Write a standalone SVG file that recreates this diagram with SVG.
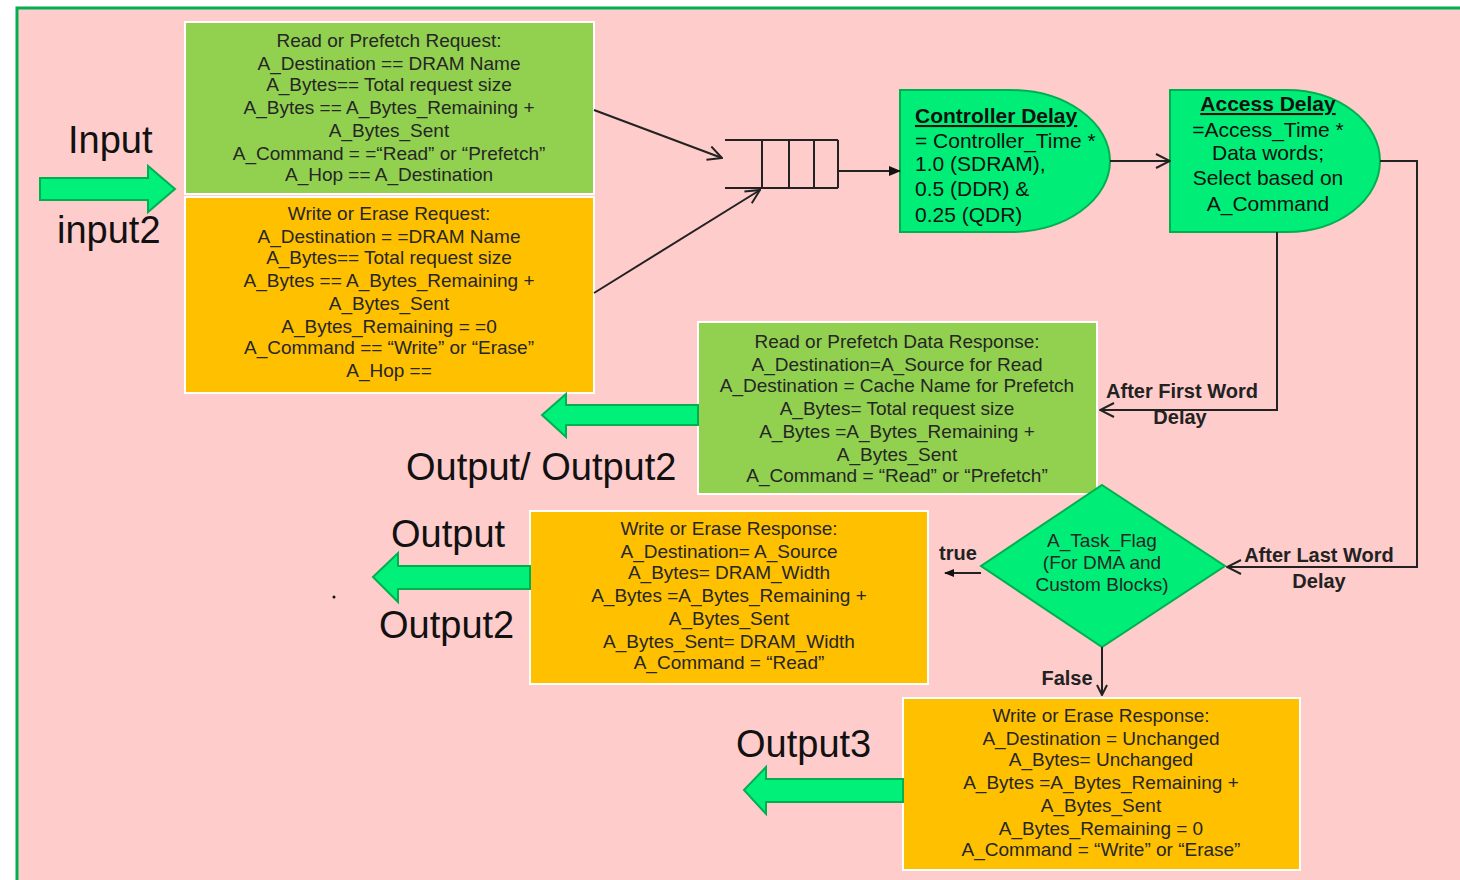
<svg xmlns="http://www.w3.org/2000/svg" width="1460" height="880" viewBox="0 0 1460 880">
<defs>
<marker id="open" viewBox="0 0 12 12" refX="11" refY="6" markerWidth="12" markerHeight="12" markerUnits="userSpaceOnUse" orient="auto">
<path d="M1,1 L11,6 L1,11" fill="none" stroke="#222" stroke-width="2"/>
</marker>
<marker id="openL" viewBox="0 0 16 16" refX="15" refY="8" markerWidth="16" markerHeight="16" markerUnits="userSpaceOnUse" orient="auto">
<path d="M1,1 L15,8 L1,15" fill="none" stroke="#222" stroke-width="2"/>
</marker>
<marker id="fill" viewBox="0 0 12 10" refX="11" refY="5" markerWidth="12" markerHeight="10" markerUnits="userSpaceOnUse" orient="auto">
<path d="M0,0 L12,5 L0,10 Z" fill="#111"/>
</marker>
<marker id="fillS" viewBox="0 0 10 8" refX="9" refY="4" markerWidth="10" markerHeight="8" markerUnits="userSpaceOnUse" orient="auto">
<path d="M0,0 L10,4 L0,8 Z" fill="#111"/>
</marker>
</defs>
<style>
.t{font-family:"Liberation Sans",Arial,sans-serif;font-size:19px;fill:#262626;text-anchor:middle}
.d{font-family:"Liberation Sans",Arial,sans-serif;font-size:21px;fill:#111}
.big{font-family:"Liberation Sans",Arial,sans-serif;font-size:38px;fill:#111}
.lbl{font-family:"Liberation Sans",Arial,sans-serif;font-size:20px;font-weight:bold;fill:#222;text-anchor:middle}
.gbox{fill:#92d050;stroke:#ffffff;stroke-width:2}
.ybox{fill:#ffc000;stroke:#ffffff;stroke-width:2}
.shape{fill:#00ee77;stroke:#00b050;stroke-width:2}
.barrow{fill:#00f07a;stroke:#00b050;stroke-width:2}
.ln{fill:none;stroke:#222;stroke-width:2}
</style>
<rect x="0" y="0" width="1460" height="880" fill="#ffffff"/>
<rect x="17" y="8" width="1448" height="880" fill="#ffcccc" stroke="#00b050" stroke-width="3"/>

<g id="input-arrow">
<path class="barrow" d="M40,178 L148,178 L148,166 L175,189 L148,212 L148,200 L40,200 Z"/>
<text class="big" x="68" y="153">Input</text>
<text class="big" x="57" y="243">input2</text>
</g>

<g id="read-request">
<rect class="gbox" x="185" y="22" width="409" height="172"/>
<text class="t" x="389" y="47">Read or Prefetch Request:</text>
<text class="t" x="389" y="70">A_Destination == DRAM Name</text>
<text class="t" x="389" y="91">A_Bytes== Total request size</text>
<text class="t" x="389" y="114">A_Bytes == A_Bytes_Remaining +</text>
<text class="t" x="389" y="137">A_Bytes_Sent</text>
<text class="t" x="389" y="160">A_Command = =“Read” or “Prefetch”</text>
<text class="t" x="389" y="181">A_Hop == A_Destination</text>
</g>

<g id="write-request">
<rect class="ybox" x="185" y="197" width="409" height="196"/>
<text class="t" x="389" y="220">Write or Erase Request:</text>
<text class="t" x="389" y="243">A_Destination = =DRAM Name</text>
<text class="t" x="389" y="264">A_Bytes== Total request size</text>
<text class="t" x="389" y="287">A_Bytes == A_Bytes_Remaining +</text>
<text class="t" x="389" y="310">A_Bytes_Sent</text>
<text class="t" x="389" y="333">A_Bytes_Remaining = =0</text>
<text class="t" x="389" y="354">A_Command == “Write” or “Erase”</text>
<text class="t" x="389" y="377">A_Hop ==</text>
</g>

<g id="queue">
<path class="ln" d="M725,140 H838 M725,188 H838 M762,140 V188 M789,140 V188 M814,140 V188 M838,140 V188"/>
</g>

<g id="controller-delay">
<path class="shape" d="M900,90 H1010 A100,71 0 0 1 1010,232 H900 Z"/>
<text class="d" x="915" y="123" font-weight="bold" text-decoration="underline">Controller Delay</text>
<text class="d" x="915" y="148">= Controller_Time *</text>
<text class="d" x="915" y="171">1.0 (SDRAM),</text>
<text class="d" x="915" y="196">0.5 (DDR) &amp;</text>
<text class="d" x="915" y="222">0.25 (QDR)</text>
</g>

<g id="access-delay">
<path class="shape" d="M1170,90 H1287 A93,71 0 0 1 1287,232 H1170 Z"/>
<text class="d" x="1268" y="111" text-anchor="middle" font-weight="bold" text-decoration="underline">Access Delay</text>
<text class="d" x="1268" y="137" text-anchor="middle">=Access_Time *</text>
<text class="d" x="1268" y="160" text-anchor="middle">Data words;</text>
<text class="d" x="1268" y="185" text-anchor="middle">Select based on</text>
<text class="d" x="1268" y="211" text-anchor="middle">A_Command</text>
</g>

<g id="read-response">
<rect class="gbox" x="698" y="322" width="399" height="172"/>
<text class="t" x="897" y="348">Read or Prefetch Data Response:</text>
<text class="t" x="897" y="371">A_Destination=A_Source for Read</text>
<text class="t" x="897" y="392">A_Destination = Cache Name for Prefetch</text>
<text class="t" x="897" y="415">A_Bytes= Total request size</text>
<text class="t" x="897" y="438">A_Bytes =A_Bytes_Remaining +</text>
<text class="t" x="897" y="461">A_Bytes_Sent</text>
<text class="t" x="897" y="482">A_Command = “Read” or “Prefetch”</text>
</g>

<g id="output-read">
<path class="barrow" d="M542,415 L566,394 L566,405 L698,405 L698,425 L566,425 L566,437 Z"/>
<text class="big" x="406" y="480">Output/ Output2</text>
</g>

<g id="write-response">
<rect class="ybox" x="530" y="511" width="398" height="173"/>
<text class="t" x="729" y="535">Write or Erase Response:</text>
<text class="t" x="729" y="558">A_Destination= A_Source</text>
<text class="t" x="729" y="579">A_Bytes= DRAM_Width</text>
<text class="t" x="729" y="602">A_Bytes =A_Bytes_Remaining +</text>
<text class="t" x="729" y="625">A_Bytes_Sent</text>
<text class="t" x="729" y="648">A_Bytes_Sent= DRAM_Width</text>
<text class="t" x="729" y="669">A_Command = “Read”</text>
</g>

<g id="output-write">
<path class="barrow" d="M373,577 L398,553 L398,566 L530,566 L530,589 L398,589 L398,602 Z"/>
<text class="big" x="391" y="547">Output</text>
<text class="big" x="379" y="638">Output2</text>
<circle cx="334" cy="597" r="1.5" fill="#111"/>
</g>

<g id="task-flag">
<path class="shape" d="M1102,485 L1225,566 L1102,647 L981,566 Z"/>
<text class="t" x="1102" y="547">A_Task_Flag</text>
<text class="t" x="1102" y="569">(For DMA and</text>
<text class="t" x="1102" y="591">Custom Blocks)</text>
</g>

<g id="write-response-2">
<rect class="ybox" x="903" y="698" width="397" height="172"/>
<text class="t" x="1101" y="722">Write or Erase Response:</text>
<text class="t" x="1101" y="745">A_Destination = Unchanged</text>
<text class="t" x="1101" y="766">A_Bytes= Unchanged</text>
<text class="t" x="1101" y="789">A_Bytes =A_Bytes_Remaining +</text>
<text class="t" x="1101" y="812">A_Bytes_Sent</text>
<text class="t" x="1101" y="835">A_Bytes_Remaining = 0</text>
<text class="t" x="1101" y="856">A_Command = “Write” or “Erase”</text>
</g>

<g id="output3">
<path class="barrow" d="M744,790 L766,767 L766,779 L903,779 L903,802 L766,802 L766,814 Z"/>
<text class="big" x="736" y="757">Output3</text>
</g>

<g id="connectors">
<line class="ln" x1="594" y1="110" x2="722" y2="158" marker-end="url(#openL)"/>
<line class="ln" x1="594" y1="293" x2="760" y2="190" marker-end="url(#openL)"/>
<line class="ln" x1="838" y1="171" x2="900" y2="171" marker-end="url(#fill)"/>
<line class="ln" x1="1110" y1="161" x2="1170" y2="161" marker-end="url(#openL)"/>
<polyline class="ln" points="1380,161 1417,161 1417,567 1227,567" marker-end="url(#openL)"/>
<polyline class="ln" points="1277,232 1277,410 1100,410" marker-end="url(#openL)"/>
<line class="ln" x1="981" y1="573" x2="945" y2="573" marker-end="url(#fillS)"/>
<line class="ln" x1="1102" y1="647" x2="1102" y2="695" marker-end="url(#open)"/>
<text class="lbl" x="1182" y="398">After First Word</text>
<text class="lbl" x="1180" y="424">Delay</text>
<text class="lbl" x="1319" y="562" font-size="20.5">After Last Word</text>
<text class="lbl" x="1319" y="588">Delay</text>
<text class="lbl" x="958" y="560" font-size="18">true</text>
<text class="lbl" x="1067" y="685" font-size="18">False</text>
</g>
</svg>
